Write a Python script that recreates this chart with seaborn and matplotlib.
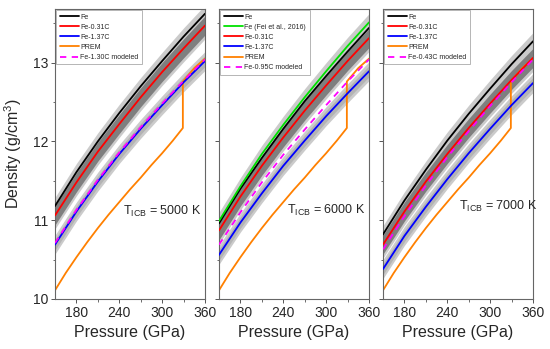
import matplotlib
matplotlib.use('Agg')
import matplotlib.pyplot as plt
import seaborn as sns
import numpy as np

# pressure grid (GPa) for the model curves
pressure = [150, 180, 210, 240, 270, 300, 330, 360]

# PREM density (with inner core boundary jump at ~329 GPa)
prem_p = [150, 165, 180, 195, 210, 225, 240, 255, 270, 285, 300, 315, 329, 329, 345, 360]
prem_rho = [10.11, 10.33, 10.53, 10.72, 10.90, 11.07, 11.23, 11.39, 11.54, 11.70, 11.85, 12.01,
            12.17, 12.76, 12.93, 13.05]

# T_ICB = 5000 K
fe_5000 = [11.18, 11.61, 12.00, 12.36, 12.70, 13.02, 13.33, 13.62]
fe031_5000 = [11.06, 11.48, 11.87, 12.22, 12.56, 12.88, 13.18, 13.47]
fe137_5000 = [10.69, 11.11, 11.49, 11.84, 12.16, 12.46, 12.75, 13.02]
mod_5000 = [10.71, 11.13, 11.51, 11.86, 12.18, 12.48, 12.77, 13.04]

# T_ICB = 6000 K
fe_6000 = [10.96, 11.40, 11.79, 12.16, 12.51, 12.83, 13.14, 13.44]
fei_6000 = [10.99, 11.43, 11.84, 12.21, 12.56, 12.89, 13.21, 13.51]
fe031_6000 = [10.87, 11.30, 11.69, 12.05, 12.39, 12.71, 13.02, 13.31]
fe137_6000 = [10.56, 10.97, 11.34, 11.69, 12.01, 12.32, 12.61, 12.89]
mod_6000 = [10.69, 11.10, 11.48, 11.83, 12.15, 12.46, 12.76, 13.04]

# T_ICB = 7000 K
fe_7000 = [10.82, 11.25, 11.64, 12.01, 12.35, 12.67, 12.98, 13.27]
fe031_7000 = [10.69, 11.11, 11.49, 11.84, 12.17, 12.48, 12.78, 13.06]
fe137_7000 = [10.38, 10.80, 11.17, 11.52, 11.85, 12.16, 12.46, 12.74]
mod_7000 = [10.63, 11.05, 11.44, 11.80, 12.13, 12.45, 12.75, 13.04]

temps = [5000, 6000, 7000]
model_labels = ['Fe-1.30C modeled', 'Fe-0.95C modeled', 'Fe-0.43C modeled']

# uncertainty half-widths (g/cm3)
err_fe = 0.11
err_fe031_out = 0.17
err_fe031_in = 0.12
err_fe137 = 0.12

LIGHT = '#cbcbcb'
MID = '#b3b3b3'
DARK = '#7f7f7f'

sns.set_theme(style='ticks')
plt.rcParams['font.family'] = ['Liberation Sans', 'DejaVu Sans']
plt.rcParams['mathtext.fontset'] = 'custom'
plt.rcParams['mathtext.rm'] = 'Liberation Sans'

fig = plt.figure(figsize=(5.5, 3.49), dpi=100)
lefts = [55 / 550, 219 / 550, 383 / 550]
axes = [fig.add_axes([l, 50 / 349, 150 / 550, 290 / 349]) for l in lefts]


def band(ax, y, w, color):
    y = np.asarray(y)
    ax.fill_between(pressure, y - w, y + w, color=color, lw=0, zorder=1)


def line(ax, x, y, color, label, ls='-'):
    sns.lineplot(x=x, y=y, ax=ax, color=color, lw=1.3, label=label, sort=False,
                 estimator=None, linestyle=ls, zorder=3)


panels = [
    (fe_5000, None, fe031_5000, fe137_5000, mod_5000),
    (fe_6000, fei_6000, fe031_6000, fe137_6000, mod_6000),
    (fe_7000, None, fe031_7000, fe137_7000, mod_7000),
]

for i, ax in enumerate(axes):
    fe, fei, fe031, fe137, mod = panels[i]

    # grey uncertainty bands
    band(ax, fe, err_fe, LIGHT)
    if fei is not None:
        band(ax, fei, err_fe, LIGHT)
    band(ax, fe031, err_fe031_out, LIGHT)
    band(ax, fe137, err_fe137, LIGHT)
    band(ax, fe137, 0.07, MID)
    band(ax, fe031, err_fe031_in, DARK)

    line(ax, pressure, fe, 'black', 'Fe')
    if fei is not None:
        line(ax, pressure, fei, '#00e000', 'Fe (Fei et al., 2016)')
    line(ax, pressure, fe031, '#ff0000', 'Fe-0.31C')
    line(ax, pressure, fe137, '#0000ff', 'Fe-1.37C')
    line(ax, prem_p, prem_rho, '#ff8000', 'PREM')
    ax.lines[-1].set_zorder(2)
    line(ax, pressure, mod, '#ff00ff', model_labels[i], ls=(0, (3.5, 3)))

    ax.set_xlim(150, 360)
    ax.set_ylim(10, 13.68)
    ax.set_xticks([180, 240, 300, 360])
    ax.set_xticks([210, 270, 330], minor=True)
    ax.set_yticks([10, 11, 12, 13])
    ax.set_yticks([10.5, 11.5, 12.5, 13.5], minor=True)
    ax.tick_params(which='major', length=3, width=0.7, color='#555555', labelsize=10, pad=2)
    ax.tick_params(which='minor', length=1.8, width=0.6, color='#555555')
    if i > 0:
        ax.set_yticklabels([])
    for s in ax.spines.values():
        s.set_color('#666666')
        s.set_linewidth(0.8)
    ax.set_xlabel('Pressure (GPa)', fontsize=11.5, labelpad=4)
    ax.set_ylabel('')

    leg = ax.legend(loc='upper left', fontsize=5.0, handlelength=2.8, handletextpad=0.2,
                    labelspacing=0.45, borderaxespad=0.15, borderpad=0.5,
                    fancybox=False, framealpha=1, edgecolor='#aaaaaa')
    leg.get_frame().set_linewidth(0.6)

text_pos = [(245, 11.11), (245, 11.13), (257, 11.18)]
for ax, t, (tx, ty) in zip(axes, temps, text_pos):
    ax.text(tx, ty, r'T$_{\mathregular{ICB}}$ = %d K' % t, fontsize=9, va='center', ha='left')

axes[0].set_ylabel('Density (g/cm$^3$)', fontsize=11.5, labelpad=6)

fig.savefig('out.png', dpi=100)
